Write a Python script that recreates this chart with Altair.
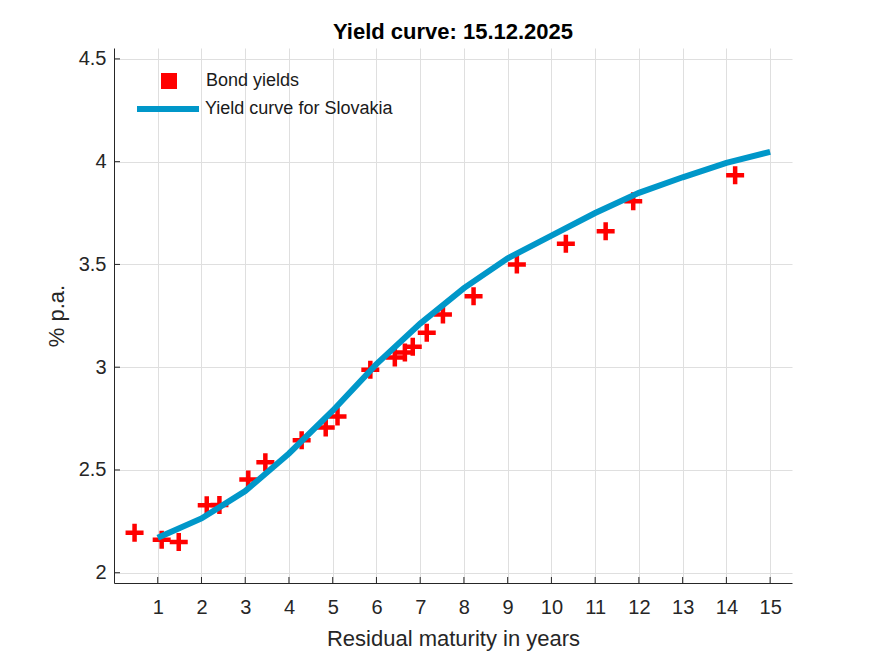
import altair as alt
import pandas as pd

# ---- data ----
bond_maturity = [0.47, 1.09, 1.48, 2.12, 2.41, 3.07, 3.46, 4.29, 4.84, 5.11, 5.86,
                 6.42, 6.65, 6.83, 7.15, 7.52, 8.22, 9.21, 10.33, 11.24, 11.87, 14.20]
bond_yield = [2.195, 2.160, 2.150, 2.328, 2.330, 2.454, 2.538, 2.645, 2.707, 2.760, 2.988,
              3.047, 3.072, 3.100, 3.168, 3.256, 3.345, 3.500, 3.600, 3.661, 3.807, 3.934]
curve_maturity = [1, 2, 3, 4, 5, 6, 7, 8, 9, 10, 11, 12, 13, 14, 15]
curve_yield = [2.170, 2.264, 2.397, 2.580, 2.788, 3.015, 3.212, 3.385, 3.530, 3.640,
               3.750, 3.848, 3.924, 3.994, 4.048]
x_ticks = [1, 2, 3, 4, 5, 6, 7, 8, 9, 10, 11, 12, 13, 14, 15]
y_ticks = [2, 2.5, 3, 3.5, 4, 4.5]

bonds = pd.DataFrame({"maturity": bond_maturity, "yield": bond_yield,
                      "series": ["Bond yields"] * len(bond_maturity)})
curve = pd.DataFrame({"maturity": curve_maturity, "yield": curve_yield,
                      "series": ["Yield curve for Slovakia"] * len(curve_maturity)})
xt = pd.DataFrame({"maturity": x_ticks})
yt = pd.DataFrame({"yield": y_ticks})

FONT = "Liberation Sans"
AXC = "#262626"
GRID = "#dfdfdf"
W, H = 678, 535

xscale = alt.Scale(domain=[0, 15.5], nice=False, zero=False)
yscale = alt.Scale(domain=[1.95, 4.553], nice=False, zero=False)

x_axis = alt.Axis(values=x_ticks, title="Residual maturity in years", grid=True,
                  gridColor=GRID, gridWidth=1, ticks=False, labelFontSize=20,
                  labelFont=FONT, labelColor=AXC, labelPadding=14, titleFontSize=22,
                  titleFont=FONT, titleColor=AXC, titleFontWeight="normal",
                  titlePadding=11, domainColor=AXC, domainWidth=1, format="d")
y_axis = alt.Axis(values=y_ticks, title="% p.a.", grid=True, gridColor=GRID,
                  gridWidth=1, ticks=False, labelFontSize=20, labelFont=FONT,
                  labelColor=AXC, labelPadding=8, titleFontSize=22, titleFont=FONT,
                  titleColor=AXC, titleFontWeight="normal", titlePadding=10,
                  domainColor=AXC, domainWidth=1, labelExpr="datum.value == 2 || datum.value == 3 || datum.value == 4 ? format(datum.value, 'd') : format(datum.value, '.1f')")

X = alt.X("maturity:Q", scale=xscale, axis=x_axis)
Y = alt.Y("yield:Q", scale=yscale, axis=y_axis)

plus_path = ("M-1,-0.25H-0.25V-1H0.25V-0.25H1V0.25H0.25V1H-0.25V0.25H-1Z")

points = alt.Chart(bonds).mark_point(shape=plus_path, filled=True, size=324,
                                     opacity=1, strokeWidth=0).encode(
    x=X, y=Y,
    color=alt.Color("series:N",
                    scale=alt.Scale(domain=["Bond yields"], range=["#ff0000"]),
                    legend=alt.Legend(title=None, orient="none", legendX=46, legendY=24,
                                      symbolType="square", symbolSize=256,
                                      symbolStrokeWidth=0, symbolOpacity=1,
                                      labelFontSize=18, labelFont=FONT, labelLimit=0,
                                      labelColor="#1a1a1a", labelOffset=28, padding=0))
)

line = alt.Chart(curve).mark_line(strokeWidth=6, color="#0097c9").encode(
    x=X, y=Y,
    color=alt.Color("series:N",
                    scale=alt.Scale(domain=["Yield curve for Slovakia"], range=["#0097c9"]),
                    legend=alt.Legend(title=None, orient="none", legendX=20, legendY=27,
                                      symbolType="stroke", symbolSize=3844,
                                      symbolStrokeWidth=6, symbolOpacity=1,
                                      labelFontSize=18, labelFont=FONT, labelLimit=0,
                                      labelColor="#1a1a1a", labelOffset=3, padding=0))
)

xtick_marks = alt.Chart(xt).mark_rule(color=AXC, strokeWidth=1).encode(
    x=X, y=alt.value(H), y2=alt.value(H - 6))
ytick_marks = alt.Chart(yt).mark_rule(color=AXC, strokeWidth=1).encode(
    y=Y, x=alt.value(0), x2=alt.value(6))

chart = alt.layer(xtick_marks, ytick_marks, points, line).resolve_scale(
    color="independent"
).properties(
    width=W, height=H,
    title=alt.Title("Yield curve: 15.12.2025", fontSize=22, font=FONT,
                    fontWeight="bold", color="#000000", anchor="middle",
                    frame="group", baseline="alphabetic", offset=-13),
    autosize=alt.AutoSizeParams(type="none"),
    padding={"left": 106, "top": 40, "right": 60, "bottom": 80},
).configure_view(stroke=None)

chart.save("out.html", embed_options={"renderer": "svg", "actions": False})
